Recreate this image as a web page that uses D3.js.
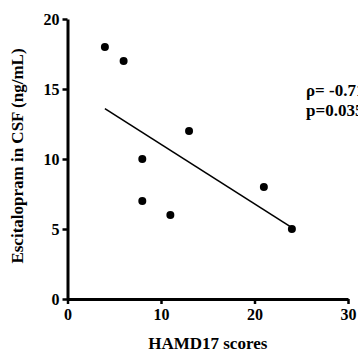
<!DOCTYPE html>
<html>
<head>
<meta charset="utf-8">
<script src="https://cdn.jsdelivr.net/npm/d3@7"></script>
<style>
  body { margin: 0; background: #fff; }
  text { font-family: "Liberation Serif", "Times New Roman", serif; font-weight: bold; }
</style>
</head>
<body>
<div id="chart"></div>
<script>
// data
const hamdScores = [4, 6, 8, 8, 11, 13, 21, 24];
const csfLevels = [18, 17, 10, 7, 6, 12, 8, 5];
const fitX = [4, 24];
const fitY = [13.6, 5.1];
const xTicks = [0, 10, 20, 30];
const yTicks = [0, 5, 10, 15, 20];
const statLines = ["ρ= -0.71", "p=0.035"];

let width = 358;
let height = 352;

let svg = d3.select('#chart')
    .append('svg')
    .attr('width', width)
    .attr('height', height);

// scales
let xScale = d3.scaleLinear()
    .domain([0, 30])
    .range([67.5, 348]);

let yScale = d3.scaleLinear()
    .domain([0, 20])
    .range([299, 19]);

// x axis
let xAxis = svg.append('g')
    .attr('transform', `translate(0, ${yScale(0)})`)
    .call(d3.axisBottom(xScale).tickValues(xTicks).tickSize(5).tickSizeOuter(0).tickPadding(5));

// y axis
let yAxis = svg.append('g')
    .attr('transform', `translate(${xScale(0)}, 0)`)
    .call(d3.axisLeft(yScale).tickValues(yTicks).tickSize(5).tickSizeOuter(0).tickPadding(3));

[xAxis, yAxis].forEach(function(ax) {
    ax.attr('font-family', null).attr('font-size', null);
    ax.select('.domain').attr('stroke', '#000').attr('stroke-width', 3);
    ax.selectAll('.tick line').attr('stroke', '#000').attr('stroke-width', 2.5);
    ax.selectAll('.tick text')
        .attr('fill', '#000')
        .attr('font-weight', 'bold')
        .attr('font-size', 16)
        .style('font-family', '"Liberation Serif", serif')
        .style('font-weight', '700')
        .style('font-size', '16px');
});

// x axis label
svg.append('text')
    .attr('x', (xScale(0) + xScale(30)) / 2)
    .attr('y', 349)
    .attr('text-anchor', 'middle')
    .style('font-size', '17px')
    .text('HAMD17 scores');

// y axis label
svg.append('text')
    .attr('x', -156)
    .attr('y', 23)
    .attr('text-anchor', 'middle')
    .attr('transform', 'rotate(-90)')
    .style('font-size', '17px')
    .text('Escitalopram in CSF (ng/mL)');

// regression line
svg.append('line')
    .attr('x1', xScale(fitX[0]))
    .attr('y1', yScale(fitY[0]))
    .attr('x2', xScale(fitX[1]))
    .attr('y2', yScale(fitY[1]))
    .attr('stroke', '#000')
    .attr('stroke-width', 1.6);

// points
svg.selectAll('circle')
    .data(hamdScores)
    .enter()
    .append('circle')
    .attr('cx', d => xScale(d))
    .attr('cy', (d, i) => yScale(csfLevels[i]))
    .attr('r', 4)
    .attr('fill', '#000');

// stats annotation (runs off the right edge, as in the source figure)
statLines.forEach(function(s, i) {
    svg.append('text')
        .attr('x', 306)
        .attr('y', 96 + i * 20)
        .style('font-size', '17px')
        .text(s);
});
</script>
</body>
</html>
